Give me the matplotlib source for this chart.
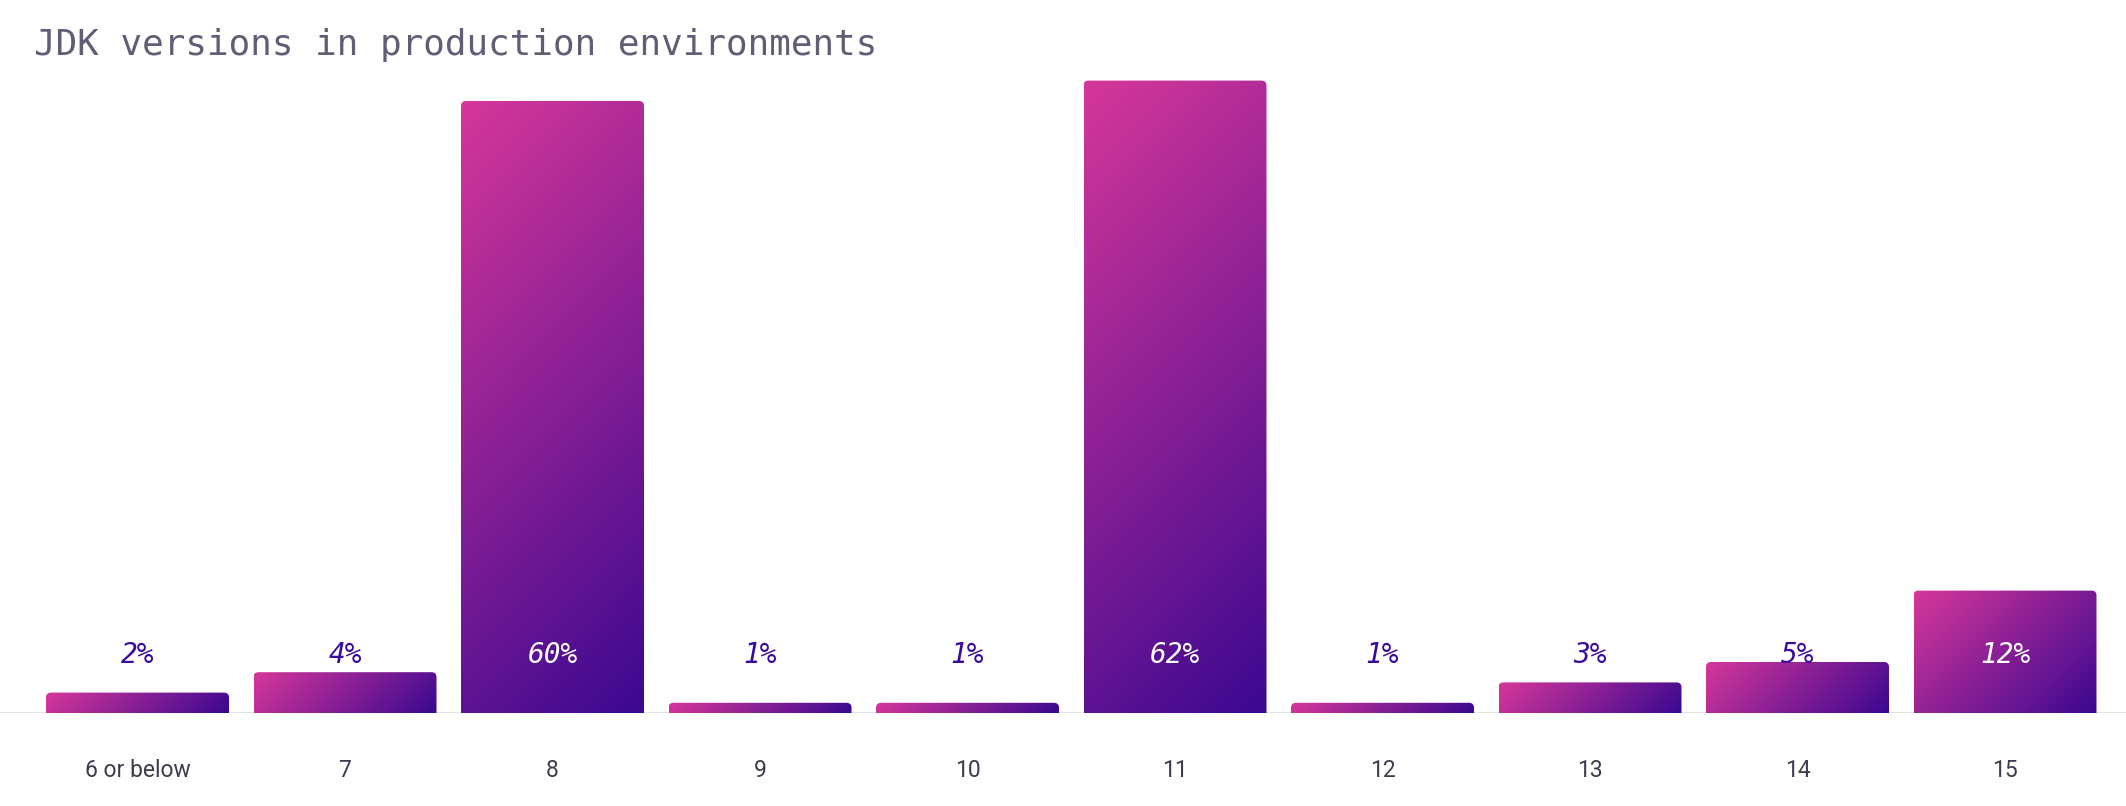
import numpy as np
import matplotlib
matplotlib.use("Agg")
import matplotlib.pyplot as plt
from matplotlib.path import Path
from matplotlib.patches import PathPatch
from matplotlib.colors import to_rgb

# ---- data ----
categories = ["6 or below", "7", "8", "9", "10", "11", "12", "13", "14", "15"]
values = [2, 4, 60, 1, 1, 62, 1, 3, 5, 12]
labels = ["2%", "4%", "60%", "1%", "1%", "62%", "1%", "3%", "5%", "12%"]
title = "JDK versions in production environments"

# ---- style ----
W_PX, H_PX, DPI = 2126, 806, 100
PINK = np.array(to_rgb("#d6379a"))
INDIGO = np.array(to_rgb("#3a0890"))
LABEL_DARK = "#3a0a9e"
TITLE_COLOR = "#605d74"
TICK_COLOR = "#3d3b4e"

fig = plt.figure(figsize=(W_PX / DPI, H_PX / DPI), dpi=DPI)
base_px = 713
top_px = 60
ax = fig.add_axes([0, (H_PX - base_px) / H_PX, 1, (base_px - top_px) / H_PX])
px_per_unit = 10.2
ax.set_ylim(0, (base_px - top_px) / px_per_unit)
pitch = 207.5
first_center = 137.5
ax.set_xlim(-first_center / pitch, 9 + (W_PX - (first_center + 9 * pitch)) / pitch)
for s in ax.spines.values():
    s.set_visible(False)
ax.set_yticks([])

x = np.arange(len(categories))
bars = ax.bar(x, values, width=183 / pitch, alpha=0)
ax.axhline(0, color="#e3e3e3", lw=1.5, zorder=1)

fig.canvas.draw()
sx = pitch  # px per x unit
sy = px_per_unit
r_px = 5.0
for b, v in zip(bars, values):
    x0, w, h = b.get_x(), b.get_width(), b.get_height()
    wp, hp = w * sx, h * sy
    nx, ny = 300, max(int(hp), 4)
    xx = np.linspace(0, wp, nx)[None, :]
    yy = np.linspace(0, hp, ny)[:, None]
    t = (xx + yy) / (wp + hp)
    img = PINK[None, None, :] * (1 - t[..., None]) + INDIGO[None, None, :] * t[..., None]
    im = ax.imshow(img, extent=(x0, x0 + w, 0, h), origin="upper",
                   aspect="auto", interpolation="bilinear", zorder=2)
    rx = min(r_px / sx, w / 2)
    ry = min(r_px / sy, h / 2)
    verts = [(x0, 0), (x0, h - ry), (x0, h), (x0 + rx, h),
             (x0 + w - rx, h), (x0 + w, h), (x0 + w, h - ry),
             (x0 + w, 0), (x0, 0)]
    codes = [Path.MOVETO, Path.LINETO, Path.CURVE3, Path.CURVE3,
             Path.LINETO, Path.CURVE3, Path.CURVE3, Path.LINETO, Path.CLOSEPOLY]
    patch = PathPatch(Path(verts, codes), transform=ax.transData,
                      facecolor="none", edgecolor="none")
    ax.add_patch(patch)
    im.set_clip_path(patch)

label_y = (base_px - 655) / px_per_unit
for xi, v, lab in zip(x, values, labels):
    col = "white" if v > 7 else LABEL_DARK
    ax.text(xi, label_y, lab, ha="center", va="center", fontsize=20,
            family="DejaVu Sans Mono", style="italic", color=col, zorder=3)

ax.set_xticks(x)
ax.set_xticklabels(categories, fontsize=16.5, family="Roboto", color=TICK_COLOR)
ax.tick_params(axis="x", length=0, pad=33)

fig.text(34 / W_PX, 1 - 45 / H_PX, title, ha="left", va="center",
         fontsize=25.8, family="DejaVu Sans Mono", color=TITLE_COLOR)

fig.savefig("out.png", dpi=DPI)
